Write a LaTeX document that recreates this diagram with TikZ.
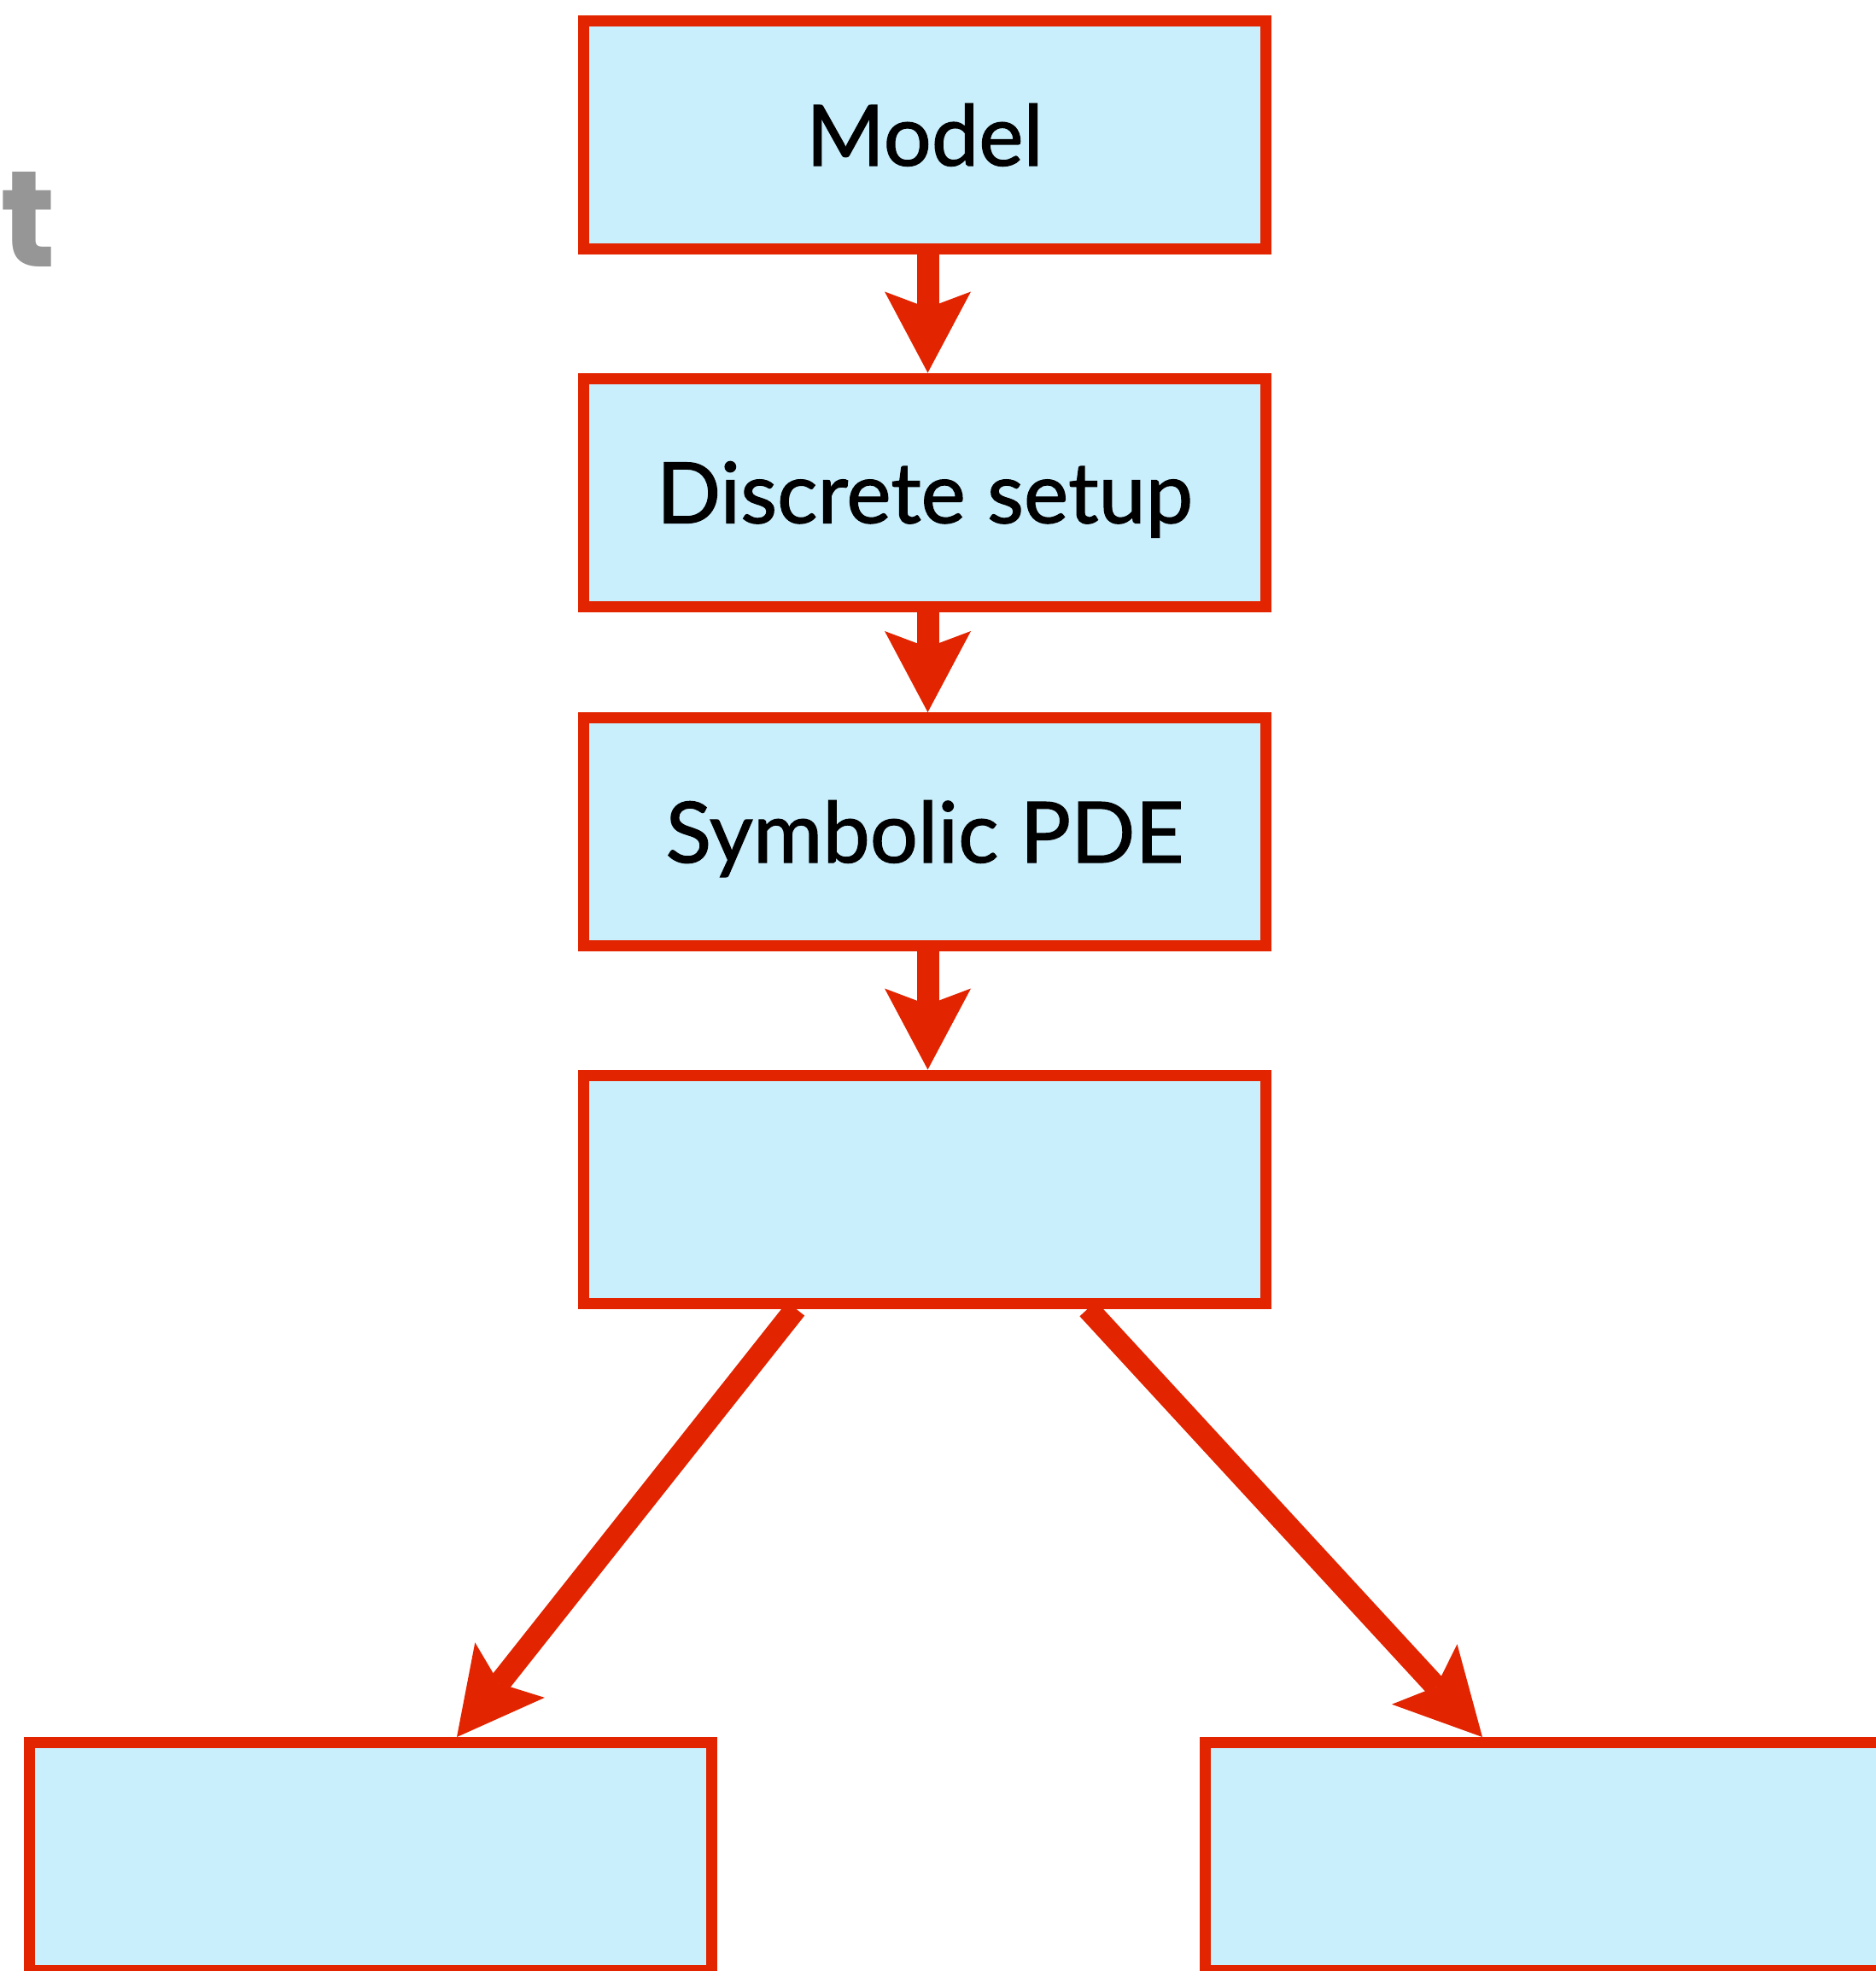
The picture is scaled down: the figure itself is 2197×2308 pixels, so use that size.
\documentclass[tikz,border=0pt]{standalone}
\usepackage{fontspec}
\setmainfont{Lato}
\newfontfamily\labelfont[FakeBold=1.2]{Lato}
\newfontfamily\headfont{Poppins}
\usetikzlibrary{arrows.meta}
\definecolor{boxred}{RGB}{226,36,0}
\definecolor{boxfill}{RGB}{201,238,252}
\definecolor{fadegray}{RGB}{150,150,150}
\begin{document}
\begin{tikzpicture}[x=1pt,y=-1pt,
  stagebox/.style={draw=boxred, fill=boxfill, line width=13pt,
    minimum width=799pt, minimum height=267pt, inner sep=0pt,
    text height=72pt, text depth=0pt,
    font=\labelfont\fontsize{99}{110}\selectfont},
  flow/.style={draw=boxred, line width=26pt,
    -{Stealth[length=95pt,width=101pt,inset=19pt,line width=0pt]}},
  fork/.style={draw=boxred, line width=26pt,
    -{Stealth[length=100pt,width=104pt,inset=20pt,line width=0pt]}}]
\useasboundingbox (0,0) rectangle (2197,2308);
\clip (0,0) rectangle (2197,2308);

% heading fragment in the corner
\node[font=\headfont\bfseries\fontsize{160}{160}\selectfont, text=fadegray,
  anchor=base east, inner sep=0pt] (heading) at (66,312) {rt};

% pipeline stages
\node[stagebox] (model) at (1083,158)   {Model};
\node[stagebox] (setup) at (1083,576.5) {Discrete setup};
\node[stagebox] (pde)   at (1083,974)   {Symbolic PDE};
\node[stagebox] (split) at (1083,1392.5) {};
\node[stagebox] (left)  at (434,2174)   {};
\node[stagebox] (right) at (1811,2174)  {};

% connectors
\draw[flow] ([xshift=3.5pt]model.south) -- ([xshift=3.5pt]setup.north);
\draw[flow] ([xshift=3.5pt]setup.south) -- ([xshift=3.5pt]pde.north);
\draw[flow] ([xshift=3.5pt]pde.south)   -- ([xshift=3.5pt]split.north);
\draw[fork] ([xshift=-151pt]split.south) -- ([xshift=101pt]left.north);
\draw[fork] ([xshift=191pt]split.south)  -- ([xshift=-75pt]right.north);
\end{tikzpicture}
\end{document}
